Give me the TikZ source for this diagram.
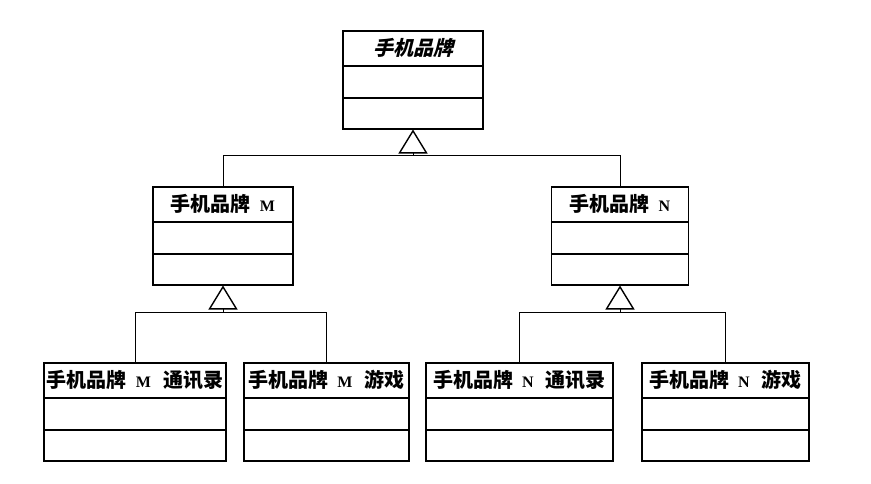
\documentclass[tikz,border=0pt]{standalone}
\usepackage{fontspec}
\setmainfont{Liberation Serif}
\setmonofont{Liberation Mono}
\newfontfamily\cjk{Noto Sans CJK SC}
\newfontfamily\cjkslant[FakeSlant=0.25]{Noto Sans CJK SC}
\usetikzlibrary{arrows.meta,calc}
\tikzset{
  clsbox/.style ={draw, line width=1.5pt, anchor=north, minimum height=98pt, inner sep=0pt},
  clsname/.style={font=\fontsize{20}{22}\selectfont\bfseries, inner sep=0pt},
  clsline/.style={line width=1.5pt},
  gen/.style    ={-{Triangle[open, length=24pt, width=29pt, line width=1.4pt]}, line width=1pt},
  wire/.style   ={line width=1pt},
}
% a class box: name, x, top y, width, title
\newcommand{\umlclass}[5]{%
  \node[clsbox, minimum width=#4] (#1) at (#2,#3) {};
  \node[clsname] (#1-name) at ([yshift=-18pt]#1.north) {#5};
  \draw[clsline] ([yshift=-36pt]#1.north west) -- ([yshift=-36pt]#1.north east);
  \draw[clsline] ([yshift=-68pt]#1.north west) -- ([yshift=-68pt]#1.north east);
}
\newcommand{\ltM}{\hspace{9pt}{\fontsize{16}{16}\selectfont M}\hspace{12pt}}
\newcommand{\ltN}{\hspace{9pt}{\fontsize{16}{16}\selectfont N}\hspace{12pt}}

\begin{document}
\begin{tikzpicture}[x=1pt, y=-1pt]
  \useasboundingbox (0,0) rectangle (871,483);

  % classes
  \umlclass{brand}{413}{30}{140pt}{\cjkslant 手机品牌}
  \umlclass{brandM}{223}{186}{140pt}{{\cjk 手机品牌}\ltM}
  \umlclass{brandN}{620}{186}{137pt}{{\cjk 手机品牌}\ltN}
  \umlclass{mContacts}{135}{362}{182pt}{{\cjk 手机品牌}\ltM{\cjk 通讯录}}
  \umlclass{mGame}{326.5}{362}{165pt}{{\cjk 手机品牌}\ltM{\cjk 游戏}}
  \umlclass{nContacts}{519.5}{362}{187pt}{{\cjk 手机品牌}\ltN{\cjk 通讯录}}
  \umlclass{nGame}{725.5}{362}{167pt}{{\cjk 手机品牌}\ltN{\cjk 游戏}}

  % generalization
  \coordinate (j0) at ([yshift=-26pt]brand.south);
  \coordinate (j1) at ([yshift=-27pt]brandM.south);
  \coordinate (j2) at ([yshift=-27pt]brandN.south);

  \draw[gen] (j0) -- (brand.south);
  \draw[wire] (brandM.north) |- (j0) -| (brandN.north);

  \draw[gen] (j1) -- (brandM.south);
  \draw[wire] (mContacts.north) |- (j1) -| (mGame.north);

  \draw[gen] (j2) -- (brandN.south);
  \draw[wire] (nContacts.north) |- (j2) -| (nGame.north);
\end{tikzpicture}
\end{document}
